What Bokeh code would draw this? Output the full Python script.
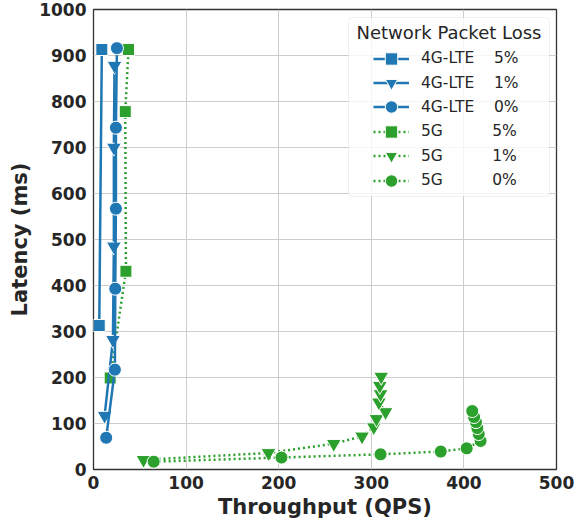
from bokeh.plotting import figure
from bokeh.models import Legend, LegendItem, Label, BoxAnnotation, FixedTicker, Range1d
from bokeh.embed import file_html
from bokeh.resources import INLINE

# ---- data ----
lte5_x = [6.2, 9.0]
lte5_y = [313, 913]
lte1_x = [12.0, 21.0, 22.0, 22.0, 22.7]
lte1_y = [117, 282, 485, 700, 878]
lte0_x = [13.7, 23.1, 23.5, 24.2, 24.2, 25.3]
lte0_y = [69, 217, 393, 567, 743, 916]
g5_5_x = [18.0, 35.0, 34.3, 37.8]
g5_5_y = [199, 431, 778, 913]
g5_1_x = [54, 189, 259.5, 290, 302.7, 305.6, 315.4, 308.2, 310, 309.2, 310.7]
g5_1_y = [21, 36, 56, 72, 92, 110, 125, 146, 164, 182, 202]
g5_0_x = [65, 203, 310, 375, 403, 418, 416, 414.5, 413, 411, 409]
g5_0_y = [17, 26, 33, 39, 46, 62, 77, 90, 103, 114, 127]

labels = ["4G-LTE" + "\u00a0" * 4 + "5%", "4G-LTE" + "\u00a0" * 4 + "1%", "4G-LTE" + "\u00a0" * 4 + "0%",
          "5G" + "\u00a0" * 10 + "5%", "5G" + "\u00a0" * 10 + "1%", "5G" + "\u00a0" * 10 + "0%"]
x_ticks = [0, 100, 200, 300, 400, 500]
y_ticks = [0, 100, 200, 300, 400, 500, 600, 700, 800, 900, 1000]

BLUE = "#1f77b4"
GREEN = "#2ca02c"
TXT = "#262626"
FONT = "DejaVu Sans"

p = figure(width=576, height=521, output_backend="svg", toolbar_location=None,
           x_range=Range1d(0, 500), y_range=Range1d(0, 1000),
           min_border_left=93, min_border_right=20, min_border_top=9, min_border_bottom=52)
p.background_fill_color = "white"
p.border_fill_color = "white"
p.outline_line_color = "#333333"
p.outline_line_width = 1.3

for ax in (p.xaxis, p.yaxis):
    ax.axis_line_color = None
    ax.major_tick_line_color = None
    ax.minor_tick_line_color = None
    ax.major_tick_out = 0
    ax.major_tick_in = 0
    ax.major_label_text_font = FONT
    ax.major_label_text_font_style = "bold"
    ax.major_label_text_font_size = "17px"
    ax.major_label_text_color = TXT
    ax.axis_label_text_font = FONT
    ax.axis_label_text_font_style = "bold"
    ax.axis_label_text_font_size = "21px"
    ax.axis_label_text_color = TXT
p.xaxis.ticker = FixedTicker(ticks=x_ticks)
p.yaxis.ticker = FixedTicker(ticks=y_ticks)
p.xaxis.axis_label = "Throughput (QPS)"
p.yaxis.axis_label = "Latency (ms)"
p.xaxis.major_label_standoff = 6
p.yaxis.major_label_standoff = 7
p.xaxis.axis_label_standoff = 3
p.yaxis.axis_label_standoff = 4

p.xgrid.grid_line_color = "#cccccc"
p.ygrid.grid_line_color = "#cccccc"
p.xgrid.grid_line_width = 1
p.ygrid.grid_line_width = 1

LW = 2.5
DOT = "2 3"
series = [
    (g5_5_x, g5_5_y, GREEN, "square", 12, DOT, 3),
    (g5_1_x, g5_1_y, GREEN, "inverted_triangle", 15, DOT, 4),
    (g5_0_x, g5_0_y, GREEN, "circle", 13, DOT, 5),
    (lte5_x, lte5_y, BLUE, "square", 12, "solid", 0),
    (lte1_x, lte1_y, BLUE, "inverted_triangle", 15, "solid", 1),
    (lte0_x, lte0_y, BLUE, "circle", 13, "solid", 2),
]
items = [None] * 6
for xs, ys, col, mk, sz, dash, idx in series:
    lr = p.line(xs, ys, line_color=col, line_width=LW, line_dash=dash)
    sr = p.scatter(xs, ys, marker=mk, size=sz, fill_color=col, line_color="white", line_width=1)
    items[idx] = LegendItem(label=labels[idx], renderers=[lr, sr])

box = BoxAnnotation(left=255, right=456, top=452, bottom=273,
                    left_units="screen", right_units="screen", top_units="screen", bottom_units="screen",
                    fill_color="white", fill_alpha=0.8, line_color="#cccccc", line_width=1,
                    border_radius=4, level="annotation")
p.add_layout(box)

# one single-row legend per entry, so that the legend markers can be large
ROW_PITCH = 24.34
for i, it in enumerate(items):
    lg = Legend(items=[it], location=(280, 395.2 - ROW_PITCH * i), orientation="vertical",
                background_fill_alpha=0, border_line_color=None,
                padding=0, margin=0, spacing=0, label_height=20, glyph_height=31,
                glyph_width=36, label_standoff=12,
                label_text_font=FONT, label_text_font_size="15.5px", label_text_color=TXT)
    p.add_layout(lg)

title = Label(x=355.5, y=437.5, x_units="screen", y_units="screen", text="Network Packet Loss",
              text_align="center", text_baseline="middle", text_font=FONT,
              text_font_size="18px", text_color=TXT)
p.add_layout(title)

open("out.html", "w").write(file_html(p, INLINE))
